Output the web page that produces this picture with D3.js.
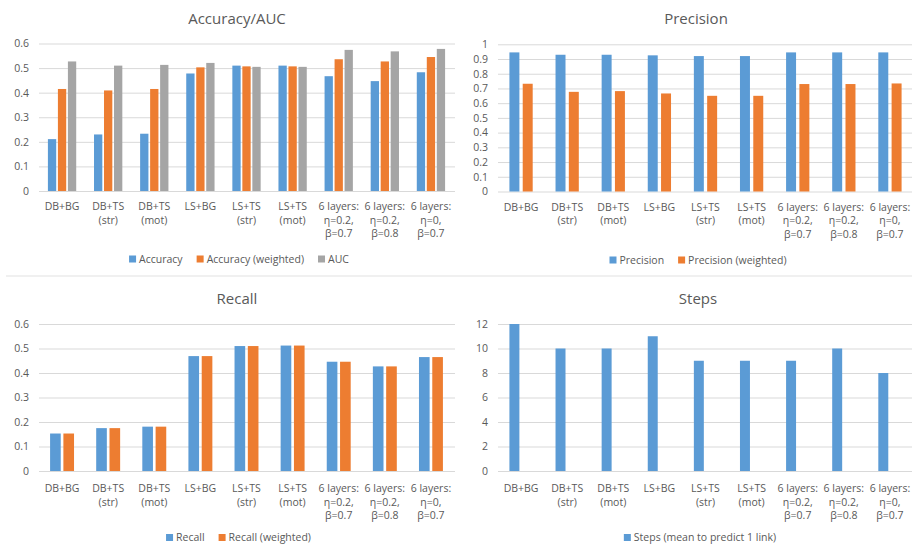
<!DOCTYPE html>
<html>
<head>
<meta charset="utf-8">
<script src="https://cdn.jsdelivr.net/npm/d3@7"></script>
<style>
  html, body { margin: 0; padding: 0; background: #fff; }
  svg { display: block; font-family: "Open Sans", "Liberation Sans", sans-serif; }
</style>
</head>
<body>
<svg id="chart" width="912" height="545"></svg>
<script>
// ---- data ----
const categories = ["DB+BG", "DB+TS\n(str)", "DB+TS\n(mot)", "LS+BG", "LS+TS\n(str)", "LS+TS\n(mot)",
  "6 layers:\nη=0.2,\nβ=0.7", "6 layers:\nη=0.2,\nβ=0.8", "6 layers:\nη=0,\nβ=0.7"];
const accuracy = [0.211, 0.230, 0.233, 0.478, 0.510, 0.510, 0.467, 0.447, 0.483];
const accuracyWeighted = [0.415, 0.409, 0.415, 0.503, 0.507, 0.507, 0.536, 0.527, 0.545];
const auc = [0.527, 0.510, 0.513, 0.521, 0.505, 0.505, 0.574, 0.568, 0.578];
const precision = [0.945, 0.929, 0.929, 0.925, 0.920, 0.920, 0.945, 0.945, 0.945];
const precisionWeighted = [0.732, 0.677, 0.682, 0.666, 0.650, 0.650, 0.730, 0.730, 0.734];
const recall = [0.153, 0.175, 0.181, 0.469, 0.510, 0.512, 0.446, 0.427, 0.465];
const recallWeighted = [0.153, 0.175, 0.181, 0.469, 0.510, 0.512, 0.446, 0.427, 0.465];
const steps = [12, 10, 10, 11, 9, 9, 9, 10, 8];

const accTicks = [0, 0.1, 0.2, 0.3, 0.4, 0.5, 0.6];
const precTicks = [0, 0.1, 0.2, 0.3, 0.4, 0.5, 0.6, 0.7, 0.8, 0.9, 1];
const recallTicks = [0, 0.1, 0.2, 0.3, 0.4, 0.5, 0.6];
const stepTicks = [0, 2, 4, 6, 8, 10, 12];

const BLUE = "#5B9BD5", ORANGE = "#ED7D31", GRAY = "#A5A5A5";
const TEXT = "#595959", GRID = "#D9D9D9";
const FS = 10.5;

const svg = d3.select("#chart");

// separator between rows
svg.append("line").attr("x1", 6).attr("x2", 912).attr("y1", 276).attr("y2", 276)
  .attr("stroke", "#EBEBEB").attr("stroke-width", 1.5);

function panel(cfg) {
  const g = svg.append("g");
  const x = d3.scaleBand().domain(categories).range([cfg.left, cfg.right]);
  const y = d3.scaleLinear().domain([0, cfg.max]).range([cfg.bottom, cfg.top]);

  // title
  g.append("text").attr("x", cfg.titleX).attr("y", cfg.titleY)
    .attr("text-anchor", "middle").attr("font-size", 15).attr("fill", TEXT).text(cfg.title);

  // gridlines + y tick labels
  const yAxis = d3.axisLeft(y).tickValues(cfg.ticks).tickSize(-(cfg.gridRight - cfg.left))
    .tickPadding(cfg.left - cfg.labelRight).tickFormat(d => String(+d.toFixed(1)));
  const ax = g.append("g").attr("transform", `translate(${cfg.left},0)`).call(yAxis);
  ax.select(".domain").remove();
  ax.selectAll(".tick line").attr("stroke", GRID).attr("stroke-width", 1);
  ax.selectAll(".tick text").attr("fill", TEXT).attr("font-size", FS)
    .attr("font-family", "'Open Sans', sans-serif");

  // bars
  const slots = cfg.slots || cfg.series.length;
  const inner = d3.scaleBand().domain(d3.range(slots)).range([0, slots * cfg.step])
    .paddingInner(cfg.pad).paddingOuter(cfg.pad / 2);
  cfg.series.forEach((s, si) => {
    g.append("g").selectAll("rect").data(s.values).enter().append("rect")
      .attr("x", (d, i) => x(categories[i]) + x.bandwidth() / 2 - slots * cfg.step / 2 + inner(si))
      .attr("width", inner.bandwidth())
      .attr("y", d => y(d))
      .attr("height", d => y(0) - y(d))
      .attr("fill", s.color);
  });

  // category labels
  const cl = g.append("g");
  categories.forEach(c => {
    const t = cl.append("text").attr("text-anchor", "middle").attr("font-size", FS).attr("fill", TEXT);
    c.split("\n").forEach((line, li) => {
      t.append("tspan").attr("x", x(c) + x.bandwidth() / 2)
        .attr("y", cfg.bottom + cfg.catDy + li * 13.5).text(line);
    });
  });

  // legend
  const lg = g.append("g");
  let cursor = 0;
  cfg.series.forEach(s => {
    const it = lg.append("g");
    it.append("rect").attr("x", 0).attr("y", -3.5).attr("width", 7).attr("height", 7).attr("fill", s.color);
    const tx = it.append("text").attr("x", 10).attr("y", 3.7).attr("font-size", FS).attr("fill", TEXT).text(s.name);
    const w = 10 + tx.node().getComputedTextLength();
    it.attr("transform", `translate(${cursor},0)`);
    cursor += w + 14;
  });
  const total = cursor - 14;
  lg.attr("transform", `translate(${cfg.legendX - total / 2},${cfg.legendY})`);
}

panel({
  title: "Accuracy/AUC", titleX: 237, titleY: 24,
  left: 39, right: 454, gridRight: 455, top: 43.5, bottom: 191, max: 0.6, ticks: accTicks, labelRight: 29,
  step: 10, pad: 0.17, catDy: 19,
  series: [{name: "Accuracy", values: accuracy, color: BLUE},
           {name: "Accuracy (weighted)", values: accuracyWeighted, color: ORANGE},
           {name: "AUC", values: auc, color: GRAY}],
  legendX: 239, legendY: 259
});

panel({
  title: "Precision", titleX: 696, titleY: 24,
  left: 498, right: 913, gridRight: 912, top: 44.3, bottom: 191.5, max: 1, ticks: precTicks, labelRight: 488,
  step: 13.3, pad: 0.25, catDy: 19,
  series: [{name: "Precision", values: precision, color: BLUE},
           {name: "Precision (weighted)", values: precisionWeighted, color: ORANGE}],
  legendX: 698, legendY: 260
});

panel({
  title: "Recall", titleX: 237, titleY: 303.5,
  left: 39, right: 454, gridRight: 455, top: 324, bottom: 471, max: 0.6, ticks: recallTicks, labelRight: 29,
  step: 13.3, pad: 0.2, catDy: 21,
  series: [{name: "Recall", values: recall, color: BLUE},
           {name: "Recall (weighted)", values: recallWeighted, color: ORANGE}],
  legendX: 238.5, legendY: 537.5
});

panel({
  title: "Steps", titleX: 698, titleY: 303.5,
  left: 498, right: 913, gridRight: 912, top: 324, bottom: 471, max: 12, ticks: stepTicks, labelRight: 488,
  step: 13.3, pad: 0.25, catDy: 21, slots: 2,
  series: [{name: "Steps (mean to predict 1 link)", values: steps, color: BLUE}],
  legendX: 700, legendY: 537.5
});
</script>
</body>
</html>
